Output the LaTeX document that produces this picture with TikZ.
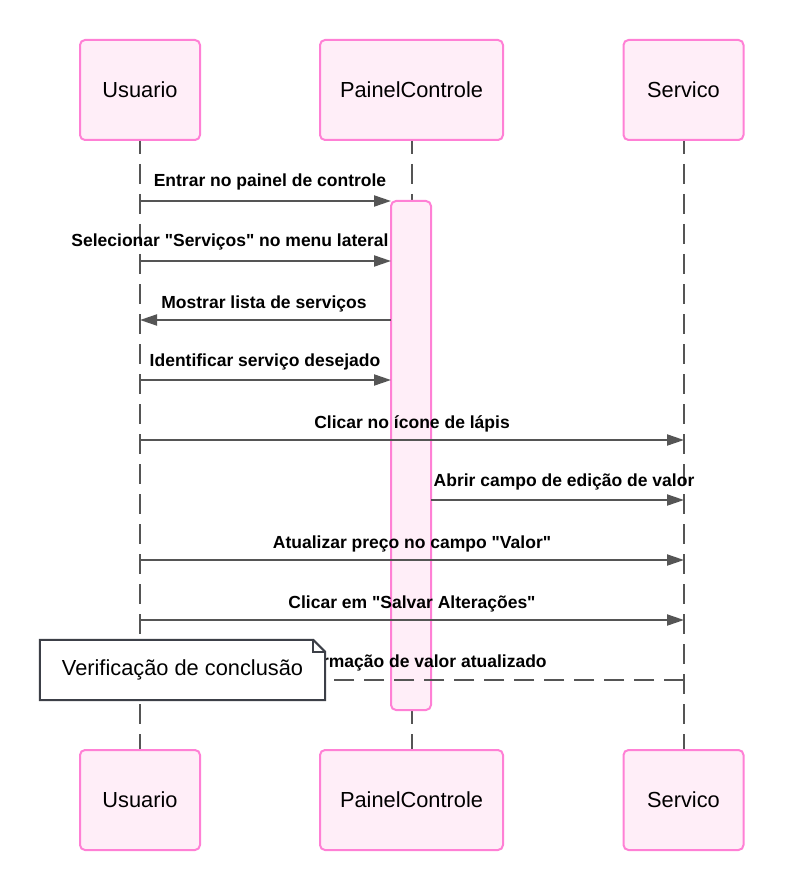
\documentclass[tikz,border=0pt]{standalone}
\usepackage{fontspec}
\setmainfont{Liberation Sans}
\usetikzlibrary{arrows.meta}
\definecolor{actfill}{HTML}{FFEEF8}
\definecolor{actdraw}{HTML}{FF80D5}
\definecolor{linegray}{HTML}{555555}
\definecolor{notedraw}{HTML}{3C3F47}
\newcommand{\sq}{\XeTeXglyph\XeTeXcharglyph"22\relax}
\begin{document}
\begin{tikzpicture}[x=1pt,y=-1pt,
  actor/.style={draw=actdraw, fill=actfill, line width=2pt, rounded corners=5pt,
    minimum height=100pt, inner sep=0pt, font=\fontsize{21.8}{26}\selectfont},
  lifeline/.style={draw=linegray, line width=2pt, dash pattern=on 20pt off 10pt, dash phase=7pt},
  msg/.style={draw=linegray, line width=2pt, -{Triangle[length=17pt,width=11pt]}},
  retmsg/.style={msg, dash pattern=on 20pt off 10pt},
  lbl/.style={font=\bfseries\fontsize{17.5}{21}\selectfont, anchor=base, inner sep=0pt},
  notebox/.style={fill=white, minimum width=285pt, minimum height=60pt, inner sep=0pt,
    font=\fontsize{21.8}{26}\selectfont}]
\useasboundingbox (0,0) rectangle (784,890);

% actors
\node[actor, minimum width=120pt] (u1) at (140,90) {Usuario};
\node[actor, minimum width=183pt] (p1) at (411.5,90) {PainelControle};
\node[actor, minimum width=120pt] (s1) at (683.5,90) {Servico};
\node[actor, minimum width=120pt] (u2) at (140,800) {Usuario};
\node[actor, minimum width=183pt] (p2) at (411.5,800) {PainelControle};
\node[actor, minimum width=120pt] (s2) at (683.5,800) {Servico};

% lifelines
\draw[lifeline] (u1.south) -- (u2.north);
\draw[lifeline] (p1.south) -- (p2.north);
\draw[lifeline] (s1.south) -- (s2.north);

% activation
\node[draw=actdraw, fill=actfill, line width=2pt, rounded corners=5pt,
  minimum width=40pt, minimum height=509pt, inner sep=0pt] (act) at (411,455.5) {};

% message endpoints
\coordinate (a1) at (140,201); \coordinate (b1) at (391,201);
\coordinate (a2) at (140,261); \coordinate (b2) at (391,261);
\coordinate (a3) at (391,320); \coordinate (b3) at (140,320);
\coordinate (a4) at (140,380); \coordinate (b4) at (391,380);
\coordinate (a5) at (140,440); \coordinate (b5) at (684,440);
\coordinate (a6) at (431,500); \coordinate (b6) at (684,500);
\coordinate (a7) at (140,560); \coordinate (b7) at (684,560);
\coordinate (a8) at (140,620); \coordinate (b8) at (684,620);
\coordinate (a9) at (684,680); \coordinate (b9) at (140,680);

\draw[msg] (a1) -- (b1);
\draw[msg] (a2) -- (b2);
\draw[msg] (a3) -- (b3);
\draw[msg] (a4) -- (b4);
\draw[msg] (a5) -- (b5);
\draw[msg] (a6) -- (b6);
\draw[msg] (a7) -- (b7);
\draw[msg] (a8) -- (b8);
\draw[retmsg] (a9) -- (b9);

\node[lbl] (l1) at (270,187) {Entrar no painel de controle};
\node[lbl] (l2) at (230,247) {Selecionar \sq Serviços\sq{} no menu lateral};
\node[lbl] (l3) at (264,308) {Mostrar lista de serviços};
\node[lbl] (l4) at (265,366) {Identificar serviço desejado};
\node[lbl] (l5) at (412,428) {Clicar no ícone de lápis};
\node[lbl] (l6) at (564,486) {Abrir campo de edição de valor};
\node[lbl] (l7) at (412,548) {Atualizar preço no campo \sq Valor\sq};
\node[lbl] (l8) at (412,608) {Clicar em \sq Salvar Alterações\sq};
\node[lbl] (l9) at (412,667) {Confirmação de valor atualizado};

% note
\node[notebox] (note) at (182.5,670) {Verificação de conclusão};
\draw[notedraw, line width=2pt, line join=miter]
  (note.north west) -- ([xshift=-12pt]note.north east)
  -- ([yshift=-12pt]note.north east) -- (note.south east)
  -- (note.south west) -- cycle;
\draw[notedraw, line width=2pt]
  ([xshift=-12pt]note.north east) -- ([xshift=-12pt,yshift=-12pt]note.north east)
  -- ([yshift=-12pt]note.north east);
\end{tikzpicture}
\end{document}
